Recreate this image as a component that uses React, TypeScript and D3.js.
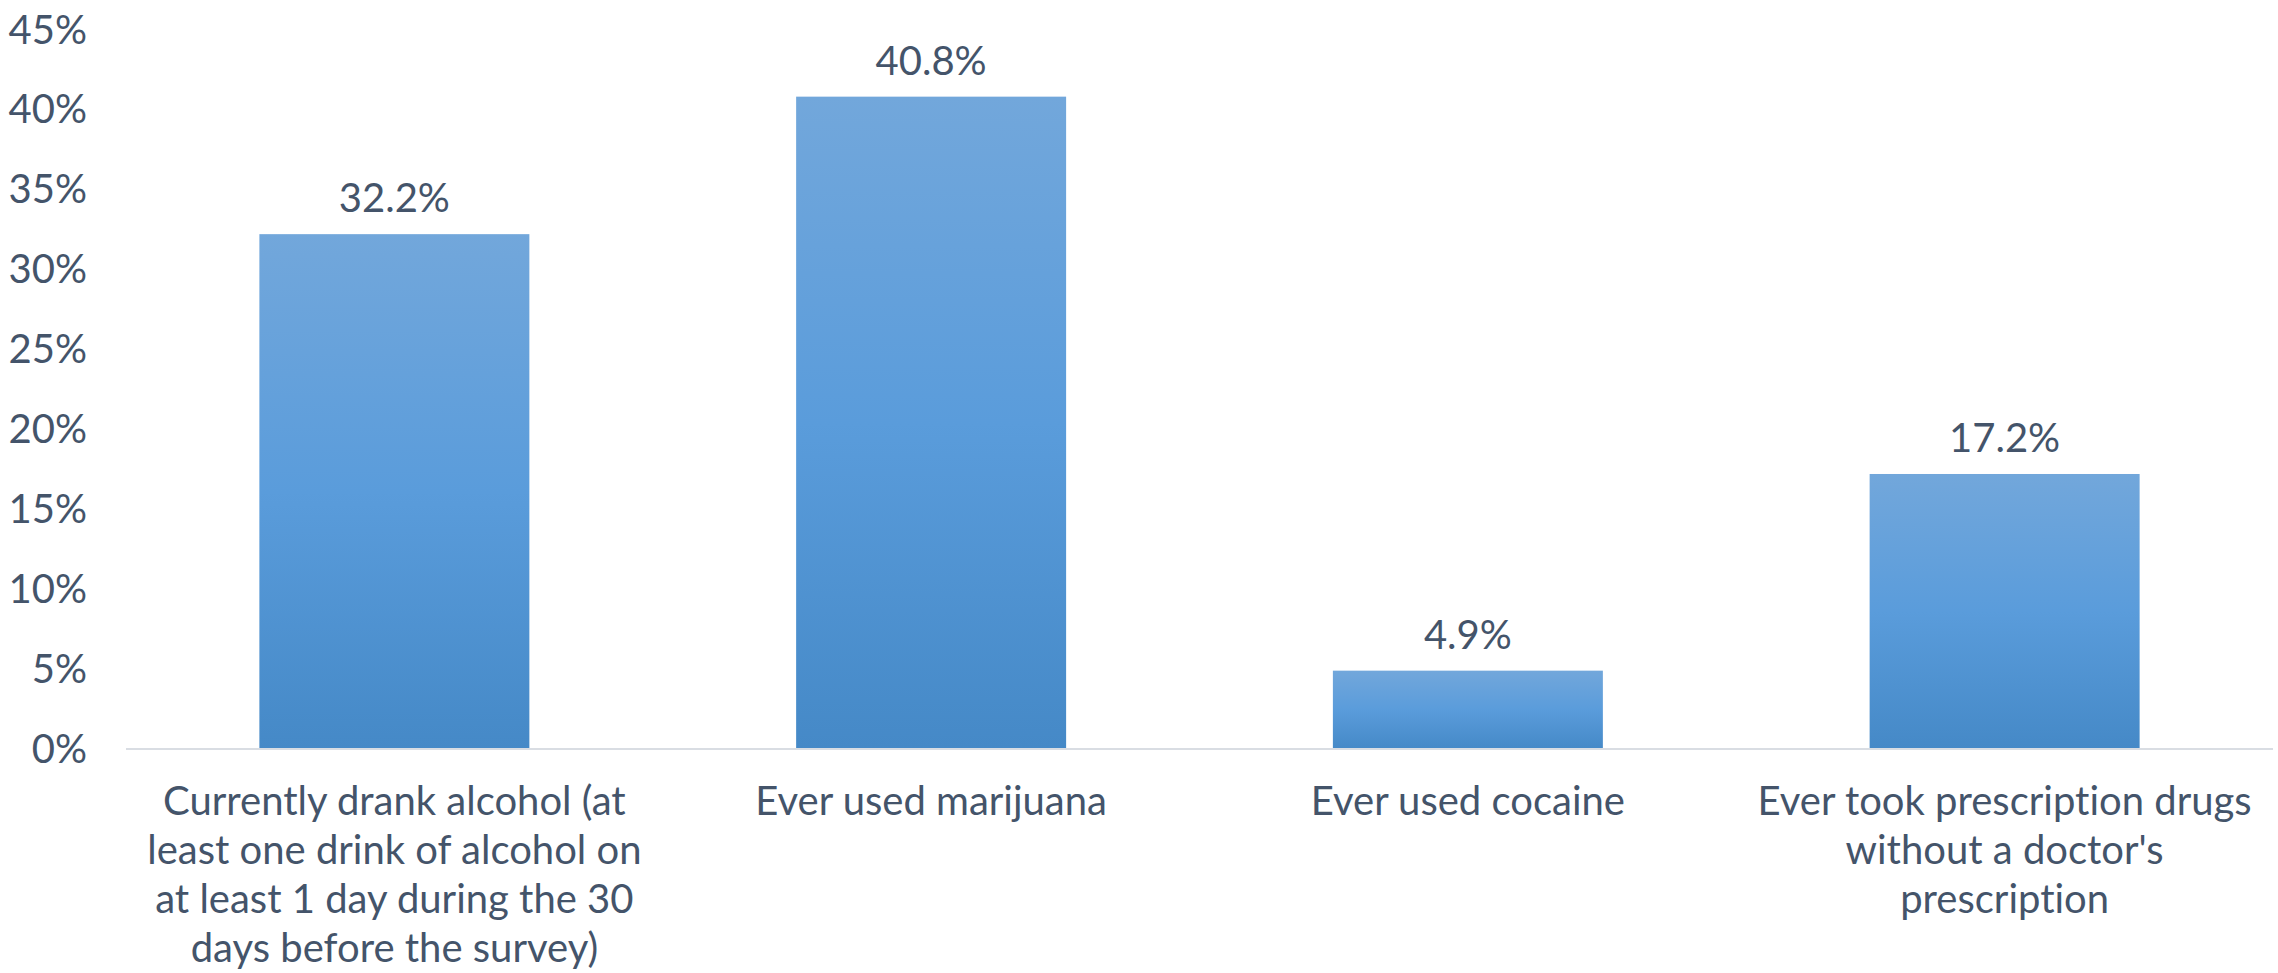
import React, { useEffect } from "react";
import * as d3 from "d3";

const categories = [
  "Currently drank alcohol (at least one drink of alcohol on at least 1 day during the 30 days before the survey)",
  "Ever used marijuana",
  "Ever used cocaine",
  "Ever took prescription drugs without a doctor's prescription",
];
const categoryLines = [
  ["Currently drank alcohol (at", "least one drink of alcohol on", "at least 1 day during the 30", "days before the survey)"],
  ["Ever used marijuana"],
  ["Ever used cocaine"],
  ["Ever took prescription drugs", "without a doctor's", "prescription"],
];
const values = [32.2, 40.8, 4.9, 17.2];
const yTicks = [0, 5, 10, 15, 20, 25, 30, 35, 40, 45];

const W = 2278;
const H = 973;
const TEXT = "#44546A";
const FONT = "Lato, 'Open Sans', sans-serif";
const FS = 40;
const textStyle: React.CSSProperties = {
  fontVariantLigatures: "none",
  fontFeatureSettings: "'liga' 0",
};

export default function App() {
  useEffect(() => {
    document.body.style.margin = "0";
  }, []);

  const x = d3
    .scaleBand<string>()
    .domain(categories)
    .range([126, 2273])
    .paddingInner(0.497)
    .paddingOuter(0.2485);
  const y = d3.scaleLinear().domain([0, 45]).range([749, 29.5]);

  return (
    <svg width={W} height={H} style={{ display: "block", background: "#fff" }}>
      <defs>
        <linearGradient id="barGrad" x1="0" y1="0" x2="0" y2="1">
          <stop offset="0%" stopColor="#72A7DB" />
          <stop offset="50%" stopColor="#5A9CDB" />
          <stop offset="100%" stopColor="#4589C7" />
        </linearGradient>
      </defs>
      {yTicks.map((t) => (
        <text
          key={t}
          x={87}
          y={y(t)}
          dy="0.35em"
          textAnchor="end"
          fill={TEXT}
          fontFamily={FONT}
          fontSize={FS}
          style={textStyle}
        >
          {t}%
        </text>
      ))}
      {categories.map((c, i) => {
        const x0 = x(c)!;
        const bw = x.bandwidth();
        return (
          <g key={c}>
            <rect
              x={x0}
              y={y(values[i])}
              width={bw}
              height={y(0) - y(values[i])}
              fill="url(#barGrad)"
            />
            <text
              x={x0 + bw / 2}
              y={y(values[i]) - 22}
              textAnchor="middle"
              fill={TEXT}
              fontFamily={FONT}
              fontSize={FS}
              style={textStyle}
            >
              {values[i].toFixed(1)}%
            </text>
            {categoryLines[i].map((line, j) => (
              <text
                key={j}
                x={x0 + bw / 2}
                y={815 + j * 49}
                textAnchor="middle"
                fill={TEXT}
                fontFamily={FONT}
                fontSize={FS}
                style={textStyle}
              >
                {line}
              </text>
            ))}
          </g>
        );
      })}
      <line x1={126} x2={2273} y1={749} y2={749} stroke="#D9DDE3" strokeWidth={2} />
    </svg>
  );
}
